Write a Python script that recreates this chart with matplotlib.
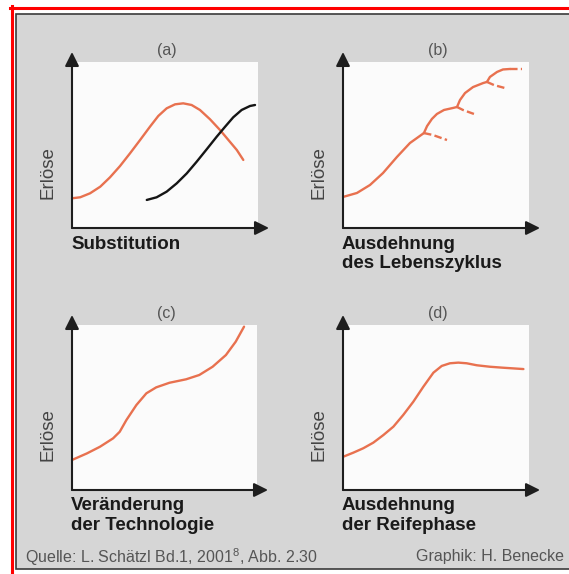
import matplotlib
matplotlib.use("Agg")
import matplotlib.pyplot as plt
from matplotlib.lines import Line2D
from matplotlib.patches import Rectangle

plt.rcParams['font.family'] = ['Liberation Sans', 'DejaVu Sans']
plt.rcParams['mathtext.fontset'] = 'custom'
plt.rcParams['mathtext.rm'] = 'Liberation Sans'
plt.rcParams['mathtext.it'] = 'Liberation Sans:italic'
plt.rcParams['mathtext.bf'] = 'Liberation Sans:bold'
plt.rcParams['mathtext.default'] = 'rm'

# --- data (0..100 in each panel) ---
# (a) Substitution
a_old_x = [0, 4.4, 9.7, 15.2, 20.4, 25.8, 31.2, 36.6, 41.9, 46.4, 50.9, 55.4, 59.8,
           64.3, 68.8, 74.2, 79.6, 84.1, 88.6, 92.1]
a_old_y = [17.9, 18.5, 20.9, 24.9, 30.5, 37.3, 45.0, 53.0, 61.0, 67.5, 72.1, 74.5, 75.1,
           74.1, 71.1, 65.5, 59.0, 53.0, 47.0, 41.0]
a_new_x = [40.2, 45.5, 50.9, 56.3, 61.7, 67.0, 72.4, 77.8, 82.3, 86.7, 91.2, 95.7, 98.4]
a_new_y = [16.9, 18.5, 21.9, 26.9, 32.9, 39.9, 47.4, 55.0, 61.0, 66.7, 71.1, 73.5, 74.1]

# (b) Ausdehnung des Lebenszyklus: solid segments and dashed continuations
b_seg_x = [
    [0, 7.5, 14.5, 21.5, 29.0, 36.0, 43.5],
    [43.5, 45.2, 47.8, 50.5, 54.3, 59.1, 61.3],
    [61.3, 62.9, 65.6, 69.9, 75.3, 77.4],
    [77.4, 79.0, 82.8, 86.0, 89.8],
]
b_seg_y = [
    [18.7, 21.1, 25.9, 33.1, 42.8, 51.2, 57.2],
    [57.2, 61.4, 65.7, 68.7, 71.1, 72.3, 72.9],
    [72.9, 77.1, 81.3, 84.9, 87.3, 88.0],
    [88.0, 91.0, 94.0, 95.5, 95.8],
]
b_dash_x = [[43.5, 48.4, 55.9], [61.3, 64.5, 70.4], [77.4, 81.2, 87.1], [89.8, 96.2]]
b_dash_y = [[57.2, 56.0, 53.0], [72.9, 71.1, 68.7], [88.0, 86.1, 84.3], [95.8, 95.8]]

# (c) Veraenderung der Technologie
c_x = [0, 8.1, 15.1, 22.2, 25.8, 29.4, 34.8, 40.2, 45.5, 52.7, 61.7, 68.8, 76.0, 83.2, 88.5, 93.0]
c_y = [18.2, 22.2, 26.2, 31.3, 35.3, 42.4, 51.5, 58.6, 62.2, 65.0, 67.1, 69.7, 74.7, 81.8, 89.9, 99.0]

# (d) Ausdehnung der Reifephase
d_x = [0.2, 5.5, 10.9, 16.3, 21.7, 27.1, 32.4, 37.8, 43.2, 48.6, 53.1, 57.5, 62.0, 66.5,
       71.9, 79.0, 86.2, 91.6, 97.0]
d_y = [20.2, 22.6, 25.3, 28.7, 33.3, 38.4, 45.5, 53.5, 62.6, 71.1, 75.2, 76.8, 77.2, 76.8,
       75.6, 74.7, 74.1, 73.7, 73.3]

panel_tags = ['(a)', '(b)', '(c)', '(d)']
panel_titles = [['Substitution'], ['Ausdehnung', 'des Lebenszyklus'],
                ['Veränderung', 'der Technologie'], ['Ausdehnung', 'der Reifephase']]
y_label = 'Erlöse'
source_text = 'Quelle: L. Schätzl Bd.1, $2001^{8}$, Abb. 2.30'
credit_text = 'Graphik: H. Benecke'

ORANGE = '#e8714f'
AXCOL = '#1e1e1e'
W, H = 569, 574


def fx(px):
    return px / W


def fy(py):
    return 1 - py / H


fig = plt.figure(figsize=(W / 100, H / 100), dpi=100, facecolor='white')

# frame: red outer lines and gray panel with dark edge
fig.add_artist(Rectangle((fx(16), fy(569)), fx(600) - fx(16), fy(13.5) - fy(569),
                         transform=fig.transFigure, facecolor='#d6d6d6',
                         edgecolor='#3a3a3a', linewidth=1.2, zorder=-5))
fig.add_artist(Line2D([fx(10), 1], [fy(7.5), fy(7.5)], transform=fig.transFigure,
                      color='#ff0000', linewidth=2.2, zorder=-4))
fig.add_artist(Line2D([fx(11.5), fx(11.5)], [fy(6), 0], transform=fig.transFigure,
                      color='#ff0000', linewidth=2.2, zorder=-4))

# pixel boxes of the four white plot areas: x0, x1, y_top, y_bottom
boxes = [(72, 258, 62, 228), (343, 529, 62, 228), (72, 257, 325, 490), (343, 529, 325, 490)]

axes = []
for i, (x0, x1, yt, yb) in enumerate(boxes):
    ax = fig.add_axes([fx(x0), fy(yb), (x1 - x0) / W, (yb - yt) / H])
    ax.set_facecolor('#fbfbfb')
    ax.set_xlim(0, 100)
    ax.set_ylim(0, 100)
    ax.set_xticks([])
    ax.set_yticks([])
    for s in ax.spines.values():
        s.set_visible(False)
    bw, bh = x1 - x0, yb - yt
    arrow = dict(arrowstyle='-|>,head_length=0.6,head_width=0.3', color=AXCOL,
                 lw=1.5, mutation_scale=14, shrinkA=0, shrinkB=0)
    ax.annotate('', xy=(0, 1 + 10 / bh), xytext=(0, 0), xycoords='axes fraction',
                arrowprops=arrow, annotation_clip=False)
    ax.annotate('', xy=(1 + 11 / bw, 0), xytext=(0, 0), xycoords='axes fraction',
                arrowprops=arrow, annotation_clip=False)

    # labels
    fig.text(fx((x0 + x1) / 2 + 2), fy(yt - 11), panel_tags[i], fontsize=11.5,
             color='#555555', ha='center', va='center')
    fig.text(fx(x0 - 24), fy(yb - 55), y_label, fontsize=13.5, color='#444444',
             rotation=90, ha='center', va='center')
    for k, line in enumerate(panel_titles[i]):
        fig.text(fx(x0 - 1), fy(yb + 16 + 19 * k), line, fontsize=13.5,
                 fontweight='bold', color='#1a1a1a', ha='left', va='center')
    axes.append(ax)

lw = 1.7
axes[0].plot(a_old_x, a_old_y, color=ORANGE, lw=lw, clip_on=False, solid_capstyle='round')
axes[0].plot(a_new_x, a_new_y, color='#151515', lw=lw, clip_on=False, solid_capstyle='round')

for sx, sy in zip(b_seg_x, b_seg_y):
    axes[1].plot(sx, sy, color=ORANGE, lw=lw, clip_on=False, solid_capstyle='round')
for dx, dy in zip(b_dash_x, b_dash_y):
    axes[1].plot(dx, dy, color=ORANGE, lw=lw, clip_on=False, dashes=(3.2, 1.4))

axes[2].plot(c_x, c_y, color=ORANGE, lw=lw, clip_on=False, solid_capstyle='round')
axes[3].plot(d_x, d_y, color=ORANGE, lw=lw, clip_on=False, solid_capstyle='round')

fig.text(fx(25), fy(557), source_text, fontsize=11.5, color='#555555',
         ha='left', va='center')
fig.text(fx(564), fy(557), credit_text, fontsize=11.5, color='#555555',
         ha='right', va='center')

fig.savefig('out.png', dpi=100, facecolor='white')
